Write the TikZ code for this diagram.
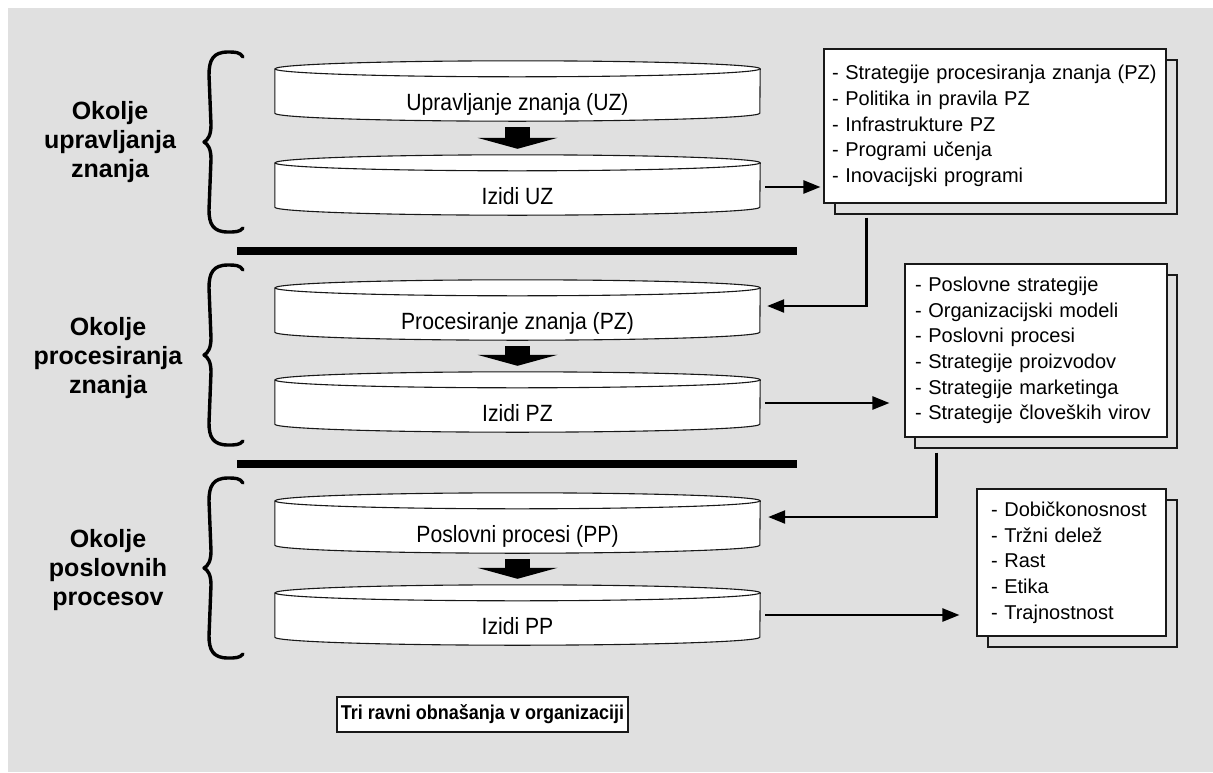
\documentclass[tikz,border=0pt]{standalone}
\usepackage{fontspec}
\setmainfont{Liberation Sans}
\newfontfamily\narrowsans[FakeStretch=0.9]{Liberation Sans}
\usetikzlibrary{arrows.meta,calc}
\definecolor{bggray}{RGB}{224,224,224}
\definecolor{ink}{RGB}{25,25,25}
\pgfdeclarelayer{bg}
\pgfdeclarelayer{shapes}
\pgfsetlayers{bg,shapes,main}
\begin{document}
\begin{tikzpicture}[x=1pt,y=-1pt,
  disc/.style={rectangle, inner sep=0pt, minimum width=485pt, minimum height=44pt,
    text height=22pt, text depth=0pt, font=\narrowsans\fontsize{23.5}{26}\selectfont},
  sheet/.style={draw=ink, line width=1.1pt, rectangle, inner sep=0pt},
  note/.style={sheet, fill=white, align=left, inner ysep=0pt,
    font=\fontsize{20}{25.7}\selectfont},
  conn/.style={draw=black, line width=2.4pt, -{Triangle[length=17pt,width=13pt]}},
  flow/.style={line width=25pt, -{Triangle[length=11pt,width=80pt,line width=0pt]}},
  brace/.style={line width=3.4pt, line cap=round, line join=round},
  side/.style={font=\fontsize{25}{29}\selectfont\bfseries, align=center},
  bar/.style={line width=8pt}
]
\useasboundingbox (0,0) rectangle (1213,772);
\begin{pgfonlayer}{bg}
  \fill[white] (0,0) rectangle (1213,772);
  \fill[bggray] (8,8) rectangle (1213,772);
\end{pgfonlayer}

% levels: side labels and braces
\node[side] (env1) at (110,142) {Okolje\\upravljanja\\znanja};
\node[side] (env2) at (108,358) {Okolje\\procesiranja\\znanja};
\node[side] (env3) at (108,570) {Okolje\\poslovnih\\procesov};
\foreach \t in {0,213,426}{
  \draw[brace] (243,{57+\t}) .. controls (240,{52+\t}) and (235,{52+\t}) .. (228,{52+\t})
    .. controls (213,{52+\t}) and (209,{60+\t}) .. (209,{75+\t})
    -- (211,{125+\t})
    .. controls (211,{135+\t}) and (208,{140+\t}) .. (204,{142+\t})
    .. controls (208,{144+\t}) and (211,{149+\t}) .. (211,{159+\t})
    -- (209,{210+\t})
    .. controls (209,{224+\t}) and (213,{232+\t}) .. (228,{232+\t})
    .. controls (235,{232+\t}) and (240,{232+\t}) .. (243,{228+\t});
}

% separators between levels
\draw[bar] (237,251) -- (797,251);
\draw[bar] (237,464) -- (797,464);

% discs
\node[disc] (uz)  at (517.5,99)  {Upravljanje znanja (UZ)};
\node[disc] (iuz) at (517.5,193) {Izidi UZ};
\node[disc] (pz)  at (517.5,318) {Procesiranje znanja (PZ)};
\node[disc] (ipz) at (517.5,410) {Izidi PZ};
\node[disc] (pp)  at (517.5,531) {Poslovni procesi (PP)};
\node[disc] (ipp) at (517.5,623) {Izidi PP};
\begin{pgfonlayer}{shapes}
\foreach \c in {uz,iuz,pz,ipz,pp,ipp}{
  \filldraw[fill=white, draw=ink, line width=1.1pt]
    ([yshift=8pt]\c.north west) -- ([yshift=8pt]\c.south west)
    arc[start angle=180, end angle=360, x radius=242.5pt, y radius=8pt]
    -- ([yshift=8pt]\c.north east)
    arc[start angle=0, end angle=180, x radius=242.5pt, y radius=8pt] -- cycle;
  \draw[draw=ink, line width=1.1pt] ([yshift=8pt]\c.north west)
    arc[start angle=180, end angle=360, x radius=242.5pt, y radius=8pt];
}
\end{pgfonlayer}
\draw[flow] ([yshift=-6pt]uz.south) -- ([yshift=22pt]iuz.north);
\draw[flow] ([yshift=-6pt]pz.south) -- ([yshift=22pt]ipz.north);
\draw[flow] ([yshift=-6pt]pp.south) -- ([yshift=22pt]ipp.north);

% result sheets
\node[sheet, minimum width=342pt, minimum height=154pt] (box1s) at (1006,137) {};
\node[note, text width=326pt, inner xsep=8pt, minimum height=154pt] (box1) at (995,126)
  {- Strategije procesiranja znanja (PZ)\\- Politika in pravila PZ\\- Infrastrukture PZ\\- Programi učenja\\- Inovacijski programi};
\node[sheet, minimum width=262pt, minimum height=173pt] (box2s) at (1046,361.5) {};
\node[note, text width=242pt, inner xsep=10pt, minimum height=173pt] (box2) at (1036,350.5)
  {- Poslovne strategije\\- Organizacijski modeli\\- Poslovni procesi\\- Strategije proizvodov\\- Strategije marketinga\\- Strategije človeških virov};
\node[sheet, minimum width=189pt, minimum height=147pt] (box3s) at (1082.5,573.5) {};
\node[note, text width=161pt, inner xsep=14pt, minimum height=147pt] (box3) at (1071.5,562.5)
  {- Dobičkonosnost\\- Tržni delež\\- Rast\\- Etika\\- Trajnostnost};

% connectors
\coordinate (o1) at ([yshift=6pt]iuz.east);
\draw[conn, shorten <=5pt, shorten >=3pt] (o1) -- (o1 -| box1.west);
\draw[conn, shorten <=3pt] ([xshift=32pt]box1s.south west) |- ([xshift=7pt,yshift=12pt]pz.east);
\coordinate (o2) at ([yshift=7pt]ipz.east);
\draw[conn, shorten <=5pt, shorten >=15pt] (o2) -- (o2 -| box2.west);
\draw[conn, shorten <=4pt] ([xshift=22pt]box2s.south west) |- ([xshift=8pt,yshift=14pt]pp.east);
\coordinate (o3) at ([yshift=8pt]ipp.east);
\draw[conn, shorten <=5pt, shorten >=17pt] (o3) -- (o3 -| box3.west);

% caption
\node[sheet, fill=white, line width=1.4pt, minimum width=291pt, minimum height=35pt,
  font=\narrowsans\fontsize{20}{22}\selectfont\bfseries] (title) at (482.5,714.5)
  {Tri ravni obnašanja v organizaciji};
\end{tikzpicture}
\end{document}
